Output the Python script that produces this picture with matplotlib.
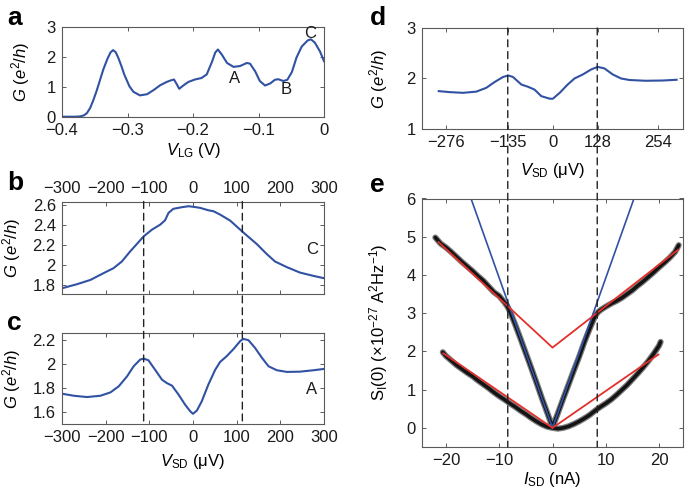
import matplotlib
matplotlib.use('Agg')
import matplotlib.pyplot as plt
from matplotlib.patches import ConnectionPatch
from matplotlib.transforms import blended_transform_factory

plt.rcParams['font.family'] = ['Liberation Sans', 'DejaVu Sans']
plt.rcParams['mathtext.fontset'] = 'custom'
plt.rcParams['mathtext.rm'] = 'Liberation Sans'
plt.rcParams['mathtext.it'] = 'Liberation Sans:italic'
plt.rcParams['mathtext.bf'] = 'Liberation Sans:bold'

# ---------------- data ----------------
# panel a: G vs V_LG
a_vlg = [-0.400, -0.390, -0.380, -0.372, -0.366, -0.362, -0.357, -0.352, -0.347, -0.342,
         -0.337, -0.331, -0.326, -0.322, -0.318, -0.314, -0.309, -0.305, -0.297, -0.291,
         -0.281, -0.270, -0.260, -0.250, -0.240, -0.234, -0.229, -0.225, -0.221, -0.216,
         -0.207, -0.197, -0.187, -0.179, -0.171, -0.166, -0.162, -0.156, -0.148, -0.138,
         -0.128, -0.118, -0.113, -0.105, -0.098, -0.090, -0.082, -0.075, -0.070, -0.062,
         -0.056, -0.049, -0.042, -0.034, -0.025, -0.020, -0.014, -0.006, 0.000]
a_g = [0.01, 0.01, 0.01, 0.02, 0.06, 0.13, 0.30, 0.57, 0.88, 1.23,
       1.58, 1.92, 2.15, 2.23, 2.16, 1.97, 1.68, 1.42, 1.02, 0.84,
       0.72, 0.76, 0.90, 1.06, 1.17, 1.22, 1.25, 1.10, 0.94, 1.03,
       1.17, 1.25, 1.30, 1.42, 1.84, 2.15, 2.25, 2.08, 1.80, 1.67,
       1.70, 1.80, 1.78, 1.52, 1.20, 1.05, 1.12, 1.24, 1.26, 1.20,
       1.24, 1.50, 1.98, 2.35, 2.55, 2.59, 2.48, 2.18, 1.86]
a_marks = ['A', 'B', 'C']
a_mark_x = [-0.137, -0.058, -0.021]
a_mark_y = [1.29, 0.90, 2.78]

# panel b: point C
b_vsd = [-300, -266, -235, -205, -182, -163, -144, -128, -113, -94, -75, -64, -56, -45,
         -26, -10, 1, 16, 35, 47, 62, 85, 115, 146, 169, 188, 215, 245, 276, 300]
b_g = [1.767, 1.807, 1.850, 1.917, 1.967, 2.033, 2.133, 2.210, 2.283, 2.350, 2.400, 2.443,
       2.517, 2.557, 2.573, 2.583, 2.577, 2.567, 2.543, 2.533, 2.500, 2.440, 2.323, 2.207,
       2.107, 2.033, 1.977, 1.923, 1.890, 1.867]

# panel c: point A
c_vsd = [-300, -273, -243, -212, -189, -170, -151, -136, -121, -113, -102, -87, -71, -60,
         -48, -33, -18, -6, 0, 9, 20, 35, 51, 62, 77, 93, 108, 115, 127, 142, 158, 173,
         192, 215, 245, 276, 300]
c_g = [1.753, 1.736, 1.725, 1.736, 1.764, 1.815, 1.898, 1.982, 2.038, 2.046, 2.032, 1.954,
       1.870, 1.842, 1.820, 1.745, 1.661, 1.605, 1.585, 1.613, 1.689, 1.828, 1.954, 2.018,
       2.066, 2.127, 2.192, 2.211, 2.200, 2.136, 2.052, 1.982, 1.949, 1.935, 1.937, 1.949,
       1.960]

# panel d
d_v = [-286, -258, -225, -192, -167, -146, -125, -112, -100, -79, -62, -46, -29, -8, 0,
       17, 37, 54, 75, 96, 112, 129, 150, 171, 192, 233, 275, 310]
d_g = [1.75, 1.73, 1.716, 1.74, 1.815, 1.93, 2.03, 2.06, 2.03, 1.88, 1.835, 1.78, 1.65,
       1.60, 1.60, 1.716, 1.88, 2.00, 2.08, 2.18, 2.23, 2.20, 2.08, 2.00, 1.97, 1.955,
       1.96, 1.975]
d_tick_pos = [-268, -112.5, 0, 112.5, 263]
d_tick_lab = ['\u2212276', '\u2212135', '0', '128', '254']

# panel e: shot noise
e_up_i = [-22.0, -21, -20, -19, -18, -17, -16, -15, -14, -13, -12, -11, -10, -9, -8.5,
          -8, -7, -6, -5, -4, -3, -2, -1, 0, 1, 2, 3, 4, 5, 6, 7, 8, 8.5,
          9, 10, 11, 12, 13, 14, 15, 16, 17, 18, 19, 20, 21, 22, 23, 23.7]
e_up_s = [4.98, 4.82, 4.72, 4.60, 4.47, 4.34, 4.22, 4.10, 3.97, 3.85, 3.70, 3.55, 3.45,
          3.28, 3.18, 3.05, 2.70, 2.33, 1.95, 1.57, 1.18, 0.78, 0.40, 0.02, 0.38, 0.76,
          1.13, 1.50, 1.86, 2.25, 2.60, 2.93, 3.02, 3.08, 3.17, 3.25, 3.32, 3.40, 3.50,
          3.60, 3.72, 3.83, 3.95, 4.07, 4.20, 4.32, 4.45, 4.60, 4.78]
e_lo_i = [-20.6, -20, -19, -18, -17, -16, -15, -14, -13, -12, -11, -10, -9, -8, -7, -6,
          -5, -4, -3, -2, -1, 0, 1, 2, 3, 4, 5, 6, 7, 8, 9, 10, 11, 12, 13, 14, 15, 16,
          17, 18, 19, 20, 20.3]
e_lo_s = [1.98, 1.88, 1.76, 1.64, 1.54, 1.44, 1.35, 1.24, 1.14, 1.04, 0.93, 0.83, 0.74,
          0.64, 0.55, 0.45, 0.36, 0.26, 0.17, 0.09, 0.03, 0.00, -0.02, 0.00, 0.04, 0.10,
          0.17, 0.25, 0.34, 0.45, 0.55, 0.64, 0.74, 0.86, 0.99, 1.12, 1.27, 1.42, 1.58,
          1.75, 1.94, 2.15, 2.25]
e_blue_i = [-16.5, 0, 16.5]
e_blue_s = [6.47, 0, 6.47]
e_red_up_i = [-21.4, 0, 23.6]
e_red_up_s = [4.86, 2.10, 4.66]
e_red_lo_i = [-20.5, 0, 19.9]
e_red_lo_s = [1.95, 0.0, 1.92]

bc_dash = [-113, 113]
e_dash = [-8.4, 8.4]

# ---------------- style ----------------
BLUE = '#3151a3'
SPINE = '#5a5a5a'
FS = 12

fig = plt.figure(figsize=(6.85, 4.94), dpi=100)
W, H = 685.0, 494.0


def add_ax(l, r, t, b):
    return fig.add_axes([l / W, (H - b) / H, (r - l) / W, (b - t) / H])


def style(ax):
    for s in ax.spines.values():
        s.set_color(SPINE)
        s.set_linewidth(0.8)
    ax.tick_params(direction='in', top=True, right=True, length=3, width=0.7,
                   color=SPINE, labelsize=FS, labelcolor='#1a1a1a')
    ax.tick_params(axis='x', pad=4)
    ax.tick_params(axis='y', pad=4.5)


ax_a = add_ax(62, 324, 27, 117)
ax_b = add_ax(62, 324, 201.5, 294)
ax_c = add_ax(62, 324, 333, 424)
ax_d = add_ax(422, 683, 28, 129)
ax_e = add_ax(422, 683, 198.5, 447)
for ax in (ax_a, ax_b, ax_c, ax_d, ax_e):
    style(ax)

glabel = r'$G$ ($e^{2}$/$h$)'
mu_label = r'$V_{\mathrm{SD}}$ (' + '\u03bc' + 'V)'

# a
ax_a.plot(a_vlg, a_g, color=BLUE, lw=1.5)
ax_a.set_xlim(-0.4, 0)
ax_a.set_ylim(0, 3)
ax_a.set_xticks([-0.4, -0.3, -0.2, -0.1, 0])
ax_a.set_xticklabels(['\u22120.4', '\u22120.3', '\u22120.2', '\u22120.1', '0'])
ax_a.set_yticks([0, 1, 2, 3])
for t, x, y in zip(a_marks, a_mark_x, a_mark_y):
    ax_a.text(x, y, t, fontsize=FS, ha='center', va='center', color='#1a1a1a')
ax_a.set_ylabel(glabel, fontsize=FS)
ax_a.yaxis.set_label_coords(-0.114, 0.5)
ax_a.set_xlabel(r'$V_{\mathrm{LG}}$ (V)', fontsize=FS)
ax_a.xaxis.set_label_coords(0.5, -0.265)

# b
ax_b.plot(b_vsd, b_g, color=BLUE, lw=1.5)
ax_b.set_xlim(-300, 300)
ax_b.set_ylim(1.71, 2.63)
ax_b.set_xticks([-300, -200, -100, 0, 100, 200, 300])
ax_b.set_yticks([1.8, 2.0, 2.2, 2.4, 2.6])
ax_b.set_yticklabels(['1.8', '2', '2.2', '2.4', '2.6'])
ax_b.tick_params(axis='x', labeltop=True, labelbottom=False, pad=4)
ax_b.text(272, 2.157, 'C', fontsize=FS, ha='center', va='center', color='#1a1a1a')
ax_b.set_ylabel(glabel, fontsize=FS)
ax_b.yaxis.set_label_coords(-0.149, 0.5)

# c
ax_c.plot(c_vsd, c_g, color=BLUE, lw=1.5)
ax_c.set_xlim(-300, 300)
ax_c.set_ylim(1.5, 2.26)
ax_c.set_xticks([-300, -200, -100, 0, 100, 200, 300])
ax_c.set_yticks([1.6, 1.8, 2.0, 2.2])
ax_c.set_yticklabels(['1.6', '1.8', '2', '2.2'])
ax_c.text(272, 1.787, 'A', fontsize=FS, ha='center', va='center', color='#1a1a1a')
ax_c.set_ylabel(glabel, fontsize=FS)
ax_c.yaxis.set_label_coords(-0.149, 0.5)
ax_c.set_xlabel(mu_label, fontsize=FS)
ax_c.xaxis.set_label_coords(0.5, -0.31)

# d
ax_d.plot(d_v, d_g, color=BLUE, lw=1.5)
ax_d.set_xlim(-328, 326)
ax_d.set_ylim(1, 3)
ax_d.set_xticks(d_tick_pos)
ax_d.set_xticklabels(d_tick_lab)
ax_d.set_yticks([1, 2, 3])
ax_d.set_ylabel(glabel, fontsize=FS)
ax_d.yaxis.set_label_coords(-0.123, 0.5)
ax_d.set_xlabel(mu_label, fontsize=FS)
ax_d.xaxis.set_label_coords(0.5, -0.32)

# e
for xs, ys in ((e_up_i, e_up_s), (e_lo_i, e_lo_s)):
    ax_e.plot(xs, ys, color='#7d7d7d', lw=4.4, solid_capstyle='round', solid_joinstyle='round')
    ax_e.plot(xs, ys, color='#141414', lw=2.6, solid_capstyle='round', solid_joinstyle='round')
ax_e.plot(e_blue_i, e_blue_s, color=BLUE, lw=1.2)
ax_e.plot(e_red_up_i, e_red_up_s, color='#e3302b', lw=1.3)
ax_e.plot(e_red_lo_i, e_red_lo_s, color='#e3302b', lw=1.3)
ax_e.set_xlim(-24.5, 24.5)
ax_e.set_ylim(-0.5, 6)
ax_e.set_xticks([-20, -10, 0, 10, 20])
ax_e.set_yticks([0, 1, 2, 3, 4, 5, 6])
ax_e.set_ylabel(r'S$_{\mathrm{I}}$(0) (' + '\u00d7' + r'10$^{-27}$ A$^{2}$Hz$^{-1}$)', fontsize=FS)
ax_e.yaxis.set_label_coords(-0.123, 0.5)
ax_e.set_xlabel(r'$I_{\mathrm{SD}}$ (nA)', fontsize=FS)
ax_e.xaxis.set_label_coords(0.5, -0.092)

# dashed guide lines spanning panels
for x in bc_dash:
    con = ConnectionPatch(xyA=(x, 1), coordsA=ax_b.get_xaxis_transform(),
                          xyB=(x, 0), coordsB=ax_c.get_xaxis_transform(),
                          color='#222222', lw=1.0, linestyle=(0, (5, 3.5)))
    fig.add_artist(con)
for x in e_dash:
    con = ConnectionPatch(xyA=(x, 1), coordsA=blended_transform_factory(ax_e.transData, ax_d.transAxes),
                          xyB=(x, 0), coordsB=ax_e.get_xaxis_transform(),
                          color='#222222', lw=1.0, linestyle=(0, (5, 3.5)))
    fig.add_artist(con)

# panel letters
for lab, x, y in (('a', 7, 25), ('b', 7, 190), ('c', 7, 330), ('d', 370, 25), ('e', 370, 192)):
    fig.text(x / W, 1 - y / H, lab, fontsize=19, fontweight='bold', ha='left', va='baseline')

fig.savefig('out.png', dpi=100)
